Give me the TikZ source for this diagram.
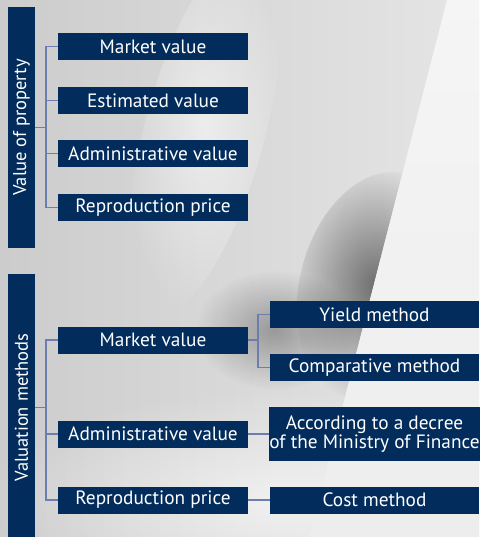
\documentclass[tikz,border=0pt]{standalone}
\usepackage{fontspec}
\setmainfont{PT Sans}
\usetikzlibrary{fadings}
\definecolor{navy}{HTML}{022C5B}
\definecolor{linkc}{HTML}{6C7DAE}
\tikzfading[name=softdisc, inner color=transparent!0, outer color=transparent!100]
\tikzset{
  box/.style={fill=navy, text=white, inner sep=0pt, minimum height=27pt,
    align=center, font=\fontsize{19.3}{20}\selectfont},
  lbox/.style={box, minimum width=190pt},
  rbox/.style={box, minimum width=209pt},
  bar/.style={fill=navy, text=white, inner sep=0pt, minimum width=27pt,
    font=\fontsize{18.5}{20}\selectfont},
  link/.style={draw=linkc, line width=1.8pt},
}
\begin{document}
\begin{tikzpicture}[x=1pt, y=-1pt]
\useasboundingbox (0,0) rectangle (479,537);
% background
\shade[left color=black!20, right color=black!10] (0,0) rectangle (479,537);
\fill[white, opacity=0.55, path fading=softdisc, rotate around={-15:(205,130)}]
  (205,130) ellipse (60 and 190);
\fill[white, opacity=0.6, path fading=softdisc]
  (280,500) ellipse (300 and 110);
\begin{scope}
  \clip (0,0) -- (447,0) -- (309,537) -- (0,537) -- cycle;
  \fill[black, opacity=0.5, path fading=softdisc, rotate around={-15:(375,285)}]
    (375,285) ellipse (75 and 115);
  \fill[black, opacity=0.3, path fading=softdisc]
    (275,330) ellipse (80 and 60);
\end{scope}
\shade[top color=black!4, bottom color=black!7] (447,0) -- (479,0) -- (479,537) -- (309,537) -- cycle;

% group: value of property
\node[bar, minimum height=241pt] (vp) at (21.5,127.5) {\rotatebox{90}{Value of property}};
\node[lbox] (mv1) at (153,46.5) {Market value};
\node[lbox] (ev1) at (153,100.5) {Estimated value};
\node[lbox] (av1) at (153,153.5) {Administrative value};
\node[lbox] (rp1) at (153,207.5) {Reproduction price};
\coordinate (j1) at (46,127.5);
\draw[link] (vp.east |- j1) -- (j1);
\draw[link] (mv1.west) -- ++(-12,0) |- (rp1.west);
\draw[link] (ev1.west) -- ++(-12,0);
\draw[link] (av1.west) -- ++(-12,0);

% group: valuation methods
\node[bar, minimum height=267pt] (vm) at (21.5,407.5) {\rotatebox{90}{Valuation methods}};
\node[lbox] (mv2) at (153,340) {Market value};
\node[lbox] (av2) at (153,434) {Administrative value};
\node[lbox] (rp2) at (153,500) {Reproduction price};
\coordinate (j2) at (46,407.5);
\draw[link] (vm.east |- j2) -- (j2);
\draw[link] (mv2.west) -- ++(-12,0) |- (rp2.west);
\draw[link] (av2.west) -- ++(-12,0);

% methods
\node[rbox] (ym) at (374.5,314.5) {Yield method};
\node[rbox] (cm) at (374.5,367.5) {Comparative method};
\node[rbox, minimum height=54pt] (dm) at (374.5,434) {According to a decree\\[-1pt]of the Ministry of Finance};
\node[rbox] (co) at (374.5,500) {Cost method};
\coordinate (j3) at (258,340);
\draw[link] (mv2.east) -- (j3);
\draw[link] (ym.west) -- ++(-12,0) |- (cm.west);
\draw[link] (av2.east) -- (dm.west);
\draw[link] (rp2.east) -- (co.west);
\end{tikzpicture}
\end{document}
